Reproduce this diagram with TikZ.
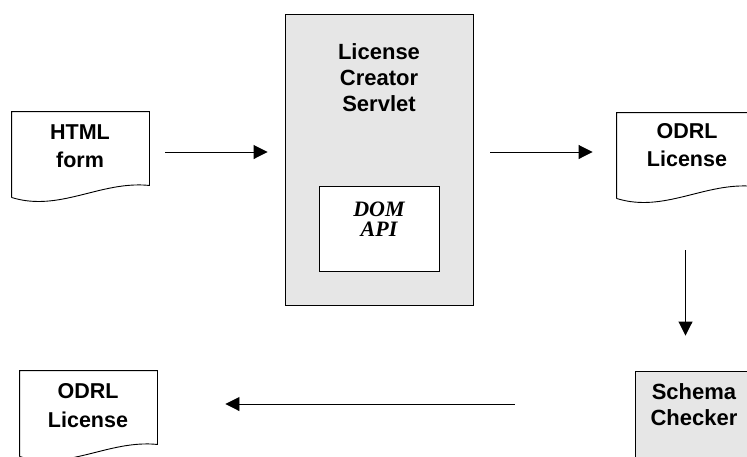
\documentclass[tikz,border=0pt]{standalone}
\usepackage{fontspec}
\setmainfont{Liberation Sans}
\newfontfamily\serifit{Liberation Serif}
\usetikzlibrary{arrows.meta}
\definecolor{boxgray}{RGB}{230,230,230}
% page outline with a wavy lower edge
\newcommand{\docshape}[1]{%
\draw (#1.south west) -- (#1.north west) -- (#1.north east) -- ([yshift=12pt]#1.south east)
  .. controls +(-49pt,5pt) and +(48pt,-15pt) .. (#1.south west);}
\tikzset{
  doc/.style={minimum width=137pt,minimum height=85pt,inner sep=0pt},
  doctext/.style={align=center,inner sep=0pt,font=\fontsize{21.5pt}{28.5pt}\selectfont\bfseries},
  box/.style={draw,fill=boxgray,inner sep=0pt},
  boxtext/.style={align=center,inner sep=0pt,font=\fontsize{22pt}{25.8pt}\selectfont\bfseries},
  apitext/.style={align=center,inner sep=0pt,font=\fontsize{22pt}{20pt}\selectfont\serifit\bfseries\itshape},
  arr/.style={-{Triangle[length=14pt,width=14pt]}}
}
\begin{document}
\begin{tikzpicture}[x=1pt,y=-1pt,line width=0.9pt]
\useasboundingbox (0,0) rectangle (747,456);
\clip (0,0) rectangle (747,456);
\node[doc] (html) at (80.5,154.5) {};
\docshape{html}
\node[doctext] (htmltext) at (80,146) {HTML\\form};
\node[box,minimum width=188pt,minimum height=291pt] (servlet) at (379,159.5) {};
\node[boxtext] (servlettext) at (379,77.5) {License\\Creator\\Servlet};
\node[draw,fill=white,inner sep=0pt,minimum width=120pt,minimum height=85pt] (dom) at (379,228.5) {};
\node[apitext] (domtext) at (379,219) {DOM\\API};
\node[doc] (odrl) at (685.5,155.5) {};
\docshape{odrl}
\node[doctext] (odrltext) at (687,145) {ODRL\\License};
\node[box,minimum width=118pt,minimum height=110pt] (checker) at (694,426) {};
\node[boxtext] (checkertext) at (694,405) {Schema\\Checker};
\node[doc] (license) at (88.5,413.5) {};
\docshape{license}
\node[doctext] (licensetext) at (88,405.5) {ODRL\\License};
\coordinate (upper) at (0,152);
\coordinate (lower) at (0,404);
\draw[arr,shorten <=16pt,shorten >=17pt] (html.east |- upper) -- (servlet.west |- upper);
\draw[arr,shorten <=17pt,shorten >=24pt] (servlet.east |- upper) -- (odrl.west |- upper);
\draw[arr,shorten <=52pt,shorten >=35pt] (odrl.south) -- (odrl.south |- checker.north);
\draw[arr,shorten <=120pt,shorten >=68pt] (checker.west |- lower) -- (license.east |- lower);
\end{tikzpicture}
\end{document}
